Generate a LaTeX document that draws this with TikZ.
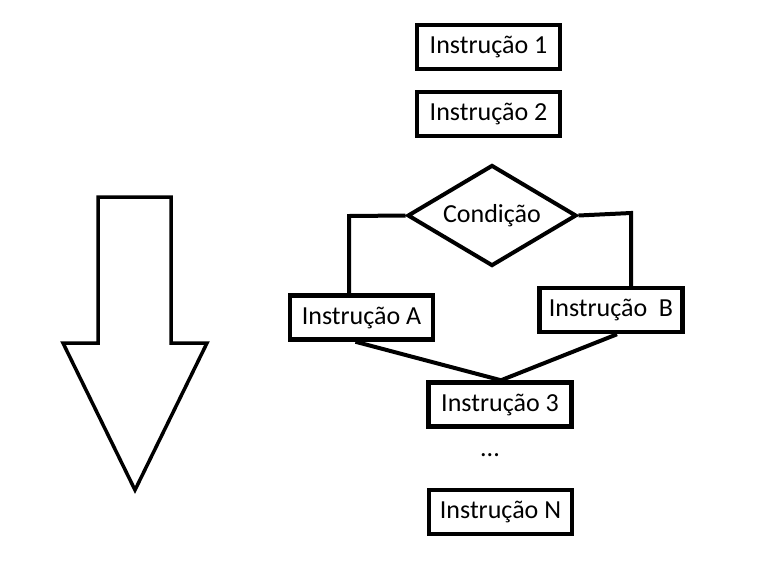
\documentclass[tikz,border=0pt]{standalone}
\usepackage{fontspec}
\setmainfont{Carlito}
\usepackage{tikz}
\usetikzlibrary{shapes.geometric}
\tikzstyle{inst_box} = [rectangle, draw=black, line width=4.5pt, align=center, inner sep=0pt, minimum width=143pt, minimum height=44pt, font=\fontsize{26}{31}\selectfont]
\tikzstyle{cond_dia} = [diamond, draw=black, line width=4pt, align=center, inner sep=0pt, aspect=1.67, minimum width=169pt, minimum height=101pt, font=\fontsize{26}{31}\selectfont]
\tikzstyle{flow_ln} = [draw=black, line width=4pt]

\begin{document}
\begin{tikzpicture}[x=1pt,y=-1pt]
\useasboundingbox (0,0) rectangle (759,576);
% seta de sentido
\draw [line width=3.5pt, line join=miter] (98,197) -- (171,197) -- (171,343) -- (207,343) -- (135,490) -- (63,343) -- (98,343) -- cycle;
% blocos
\node [inst_box, name=inst 1] at (488.5,47) {Instrução 1};
\node [inst_box, name=inst 2] at (488.5,114) {Instrução 2};
\node [cond_dia, name=cond] at (492,215.5) {Condição};
\node [inst_box, name=inst A] at (361.5,317.5) {Instrução A};
\node [inst_box, name=inst B] at (611,310) {Instrução\hspace{0.45em}B};
\node [inst_box, name=inst 3] at (500,404.5) {Instrução 3};
\node [name=dots, font=\fontsize{26}{31}\selectfont] at (490,455) {...};
\node [inst_box, name=inst N] at (500.5,512) {Instrução N};
% ramos
\coordinate (turn A) at (349,216);
\coordinate (turn B) at (631,213);
\draw [flow_ln] (cond.west) -- (turn A) -- (turn A |- inst A.north);
\draw [flow_ln] (cond.east) -- (turn B) -- (turn B |- inst B.north);
\draw [flow_ln] ([xshift=-6pt]inst A.south) -- ([xshift=1pt]inst 3.north);
\draw [flow_ln] ([xshift=6pt]inst B.south) -- ([xshift=1pt]inst 3.north);
\end{tikzpicture}
\end{document}
